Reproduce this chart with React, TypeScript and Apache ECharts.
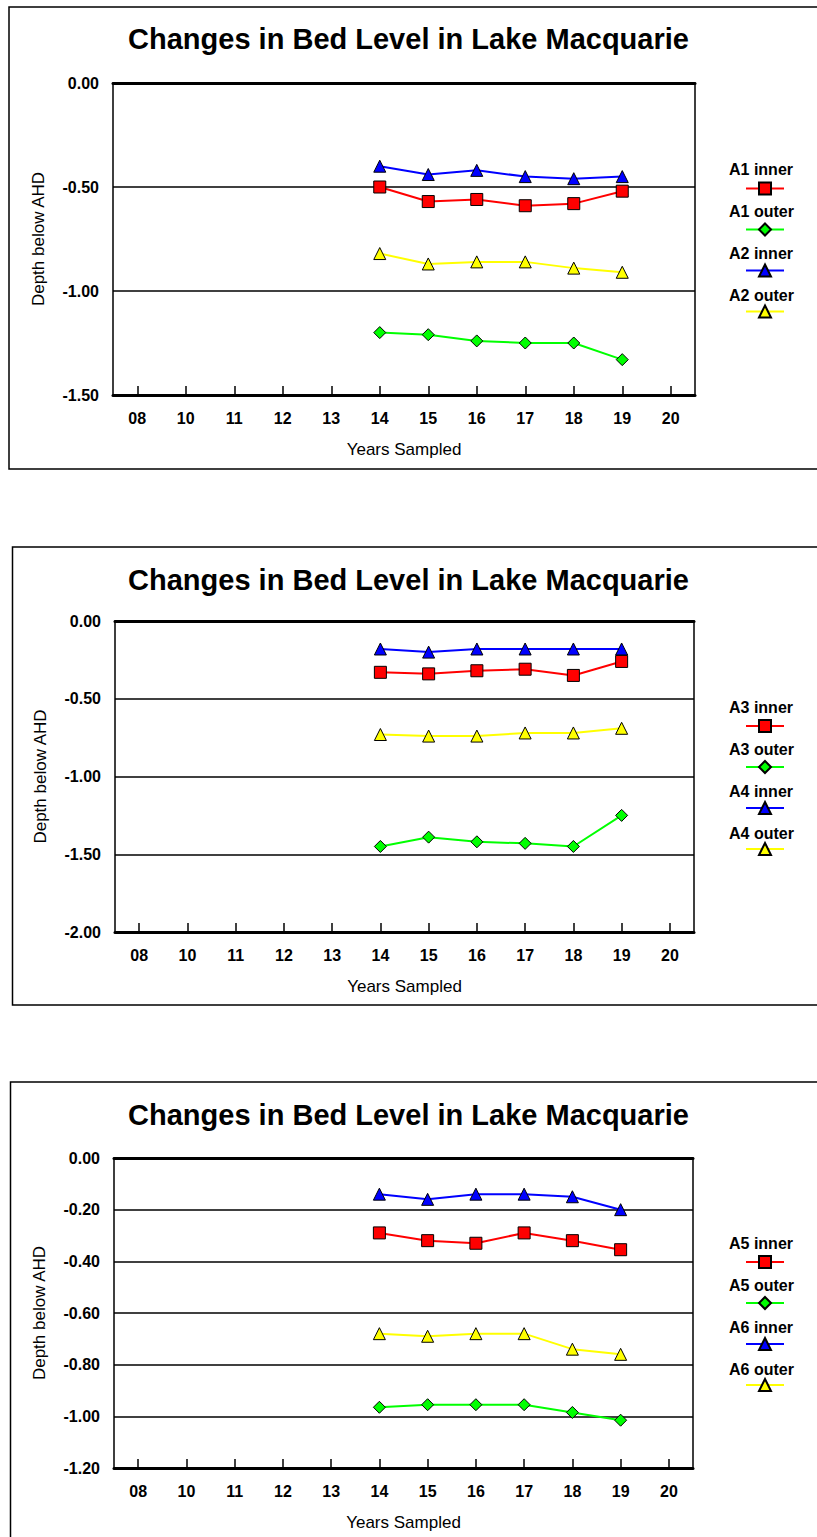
import React, { useEffect, useRef } from 'react';
import * as echarts from 'echarts';

// ---------- data ----------
const years = ['08', '10', '11', '12', '13', '14', '15', '16', '17', '18', '19', '20'];
const chartTitle = 'Changes in Bed Level in Lake Macquarie';
const xAxisName = 'Years Sampled';
const yAxisName = 'Depth below AHD';

// chart 1
const a1Inner = [null, null, null, null, null, -0.50, -0.57, -0.56, -0.59, -0.58, -0.52, null];
const a1Outer = [null, null, null, null, null, -1.20, -1.21, -1.24, -1.25, -1.25, -1.33, null];
const a2Inner = [null, null, null, null, null, -0.40, -0.44, -0.42, -0.45, -0.46, -0.45, null];
const a2Outer = [null, null, null, null, null, -0.82, -0.87, -0.86, -0.86, -0.89, -0.91, null];

// chart 2
const a3Inner = [null, null, null, null, null, -0.33, -0.34, -0.32, -0.31, -0.35, -0.26, null];
const a3Outer = [null, null, null, null, null, -1.45, -1.39, -1.42, -1.43, -1.45, -1.25, null];
const a4Inner = [null, null, null, null, null, -0.18, -0.20, -0.18, -0.18, -0.18, -0.18, null];
const a4Outer = [null, null, null, null, null, -0.73, -0.74, -0.74, -0.72, -0.72, -0.69, null];

// chart 3
const a5Inner = [null, null, null, null, null, -0.29, -0.32, -0.33, -0.29, -0.32, -0.355, null];
const a5Outer = [null, null, null, null, null, -0.965, -0.955, -0.955, -0.955, -0.985, -1.015, null];
const a6Inner = [null, null, null, null, null, -0.14, -0.16, -0.14, -0.14, -0.15, -0.20, null];
const a6Outer = [null, null, null, null, null, -0.68, -0.69, -0.68, -0.68, -0.74, -0.76, null];

const names1 = ['A1 inner', 'A1 outer', 'A2 inner', 'A2 outer'];
const names2 = ['A3 inner', 'A3 outer', 'A4 inner', 'A4 outer'];
const names3 = ['A5 inner', 'A5 outer', 'A6 inner', 'A6 outer'];

const yMins = [-1.5, -2.0, -1.2];
const yIntervals = [0.5, 0.5, 0.2];

// ---------- styles / layout ----------
const FONT = '"Liberation Sans", Arial, Helvetica, sans-serif';
const seriesStyles = [
  { color: '#FF0000', symbol: 'rect', size: 12 },
  { color: '#00FF00', symbol: 'diamond', size: 12 },
  { color: '#0000FF', symbol: 'triangle', size: 12 },
  { color: '#FFFF00', symbol: 'triangle', size: 12 },
];

const panels = [
  {
    names: names1,
    values: [a1Inner, a1Outer, a2Inner, a2Outer],
    grid: { left: 113, top: 83, width: 582, height: 312 },
    titleTop: 24.5,
    legendText: 169,
    legendSym: 189,
    box: { x: 9, y: 7, h: 462 },
  },
  {
    names: names2,
    values: [a3Inner, a3Outer, a4Inner, a4Outer],
    grid: { left: 115, top: 621, width: 579, height: 311 },
    titleTop: 565.5,
    legendText: 707,
    legendSym: 726.5,
    box: { x: 12.5, y: 547, h: 458 },
  },
  {
    names: names3,
    values: [a5Inner, a5Outer, a6Inner, a6Outer],
    grid: { left: 114, top: 1158, width: 579, height: 310 },
    titleTop: 1100.5,
    legendText: 1243,
    legendSym: 1262.5,
    box: { x: 10.5, y: 1082, h: 480 },
  },
];

function buildOption() {
  const grid: any[] = [];
  const xAxis: any[] = [];
  const topAxes: any[] = [];
  const yAxis: any[] = [];
  const series: any[] = [];
  const legend: any[] = [];
  const title: any[] = [];
  const graphic: any[] = [];

  panels.forEach((p, i) => {
    grid.push({
      ...p.grid,
      show: true,
      borderColor: '#000',
      borderWidth: 1.5,
      backgroundColor: 'transparent',
      containLabel: false,
    });
    xAxis.push({
      type: 'category',
      gridIndex: i,
      data: years,
      position: 'bottom',
      boundaryGap: true,
      axisLine: { onZero: false, lineStyle: { color: '#000', width: 3 } },
      axisTick: {
        show: true,
        inside: true,
        length: 9,
        alignWithLabel: true,
        interval: 0,
        lineStyle: { color: '#000', width: 1.5 },
      },
      axisLabel: {
        interval: 0,
        margin: 15,
        fontSize: 16,
        fontWeight: 'bold',
        color: '#000',
        fontFamily: FONT,
      },
      splitLine: { show: false },
      name: xAxisName,
      nameLocation: 'middle',
      nameGap: 46,
      nameTextStyle: { fontSize: 17, color: '#000', fontFamily: FONT },
    });
    topAxes.push({
      type: 'category',
      gridIndex: i,
      data: years,
      position: 'top',
      axisLine: { onZero: false, lineStyle: { color: '#000', width: 3 } },
      axisTick: { show: false },
      axisLabel: { show: false },
      splitLine: { show: false },
    });
    yAxis.push({
      type: 'value',
      gridIndex: i,
      min: yMins[i],
      max: 0,
      interval: yIntervals[i],
      axisLine: { show: false },
      axisTick: { show: false },
      axisLabel: {
        margin: 14,
        fontSize: 16,
        fontWeight: 'bold',
        color: '#000',
        fontFamily: FONT,
        formatter: (v: number) => (Math.abs(v) < 1e-9 ? '0.00' : v.toFixed(2)),
      },
      splitLine: { show: true, lineStyle: { color: '#000', width: 1.5 } },
      name: yAxisName,
      nameLocation: 'middle',
      nameGap: 66,
      nameTextStyle: { fontSize: 17, color: '#000', fontFamily: FONT },
    });
    p.names.forEach((name, k) => {
      const st = seriesStyles[k];
      series.push({
        type: 'line',
        name,
        xAxisIndex: i,
        yAxisIndex: i,
        data: p.values[k],
        symbol: st.symbol,
        symbolSize: st.size,
        showAllSymbol: true,
        connectNulls: false,
        lineStyle: { color: st.color, width: 2 },
        itemStyle: { color: st.color, borderColor: '#000', borderWidth: 1 },
        emphasis: { disabled: true },
        z: 3 + (3 - k),
      });
    });
    // text-only legend (names above the icons)
    legend.push({
      orient: 'vertical',
      left: 723,
      top: p.legendText - 8,
      padding: 0,
      itemGap: 26,
      itemWidth: 1,
      itemHeight: 16,
      icon: 'none',
      selectedMode: false,
      data: p.names,
      textStyle: {
        fontSize: 16,
        fontWeight: 'bold',
        color: '#000',
        fontFamily: FONT,
        lineHeight: 16,
      },
    });
    // icon-only legend
    legend.push({
      orient: 'vertical',
      left: 745,
      top: p.legendSym - 7.5,
      padding: 0,
      itemGap: 27,
      itemWidth: 38,
      itemHeight: 15,
      selectedMode: false,
      data: p.names,
      formatter: () => '',
      textStyle: { fontSize: 10, lineHeight: 15 },
    });
    title.push({
      text: chartTitle,
      left: 'center',
      top: p.titleTop,
      padding: 0,
      textStyle: { fontSize: 29, fontWeight: 'bold', color: '#000', fontFamily: FONT },
    });
    graphic.push({
      type: 'rect',
      silent: true,
      shape: { x: p.box.x, y: p.box.y, width: 900, height: p.box.h },
      style: { fill: 'none', stroke: '#000', lineWidth: 1.5 },
    });
  });

  return {
    animation: false,
    backgroundColor: '#fff',
    title,
    legend,
    grid,
    xAxis: [...xAxis, ...topAxes],
    yAxis,
    series,
    graphic,
  };
}

export default function App() {
  const ref = useRef<HTMLDivElement>(null);
  useEffect(() => {
    if (!ref.current) return;
    const chart = echarts.init(ref.current, null, { renderer: 'svg' });
    chart.setOption(buildOption() as any);
    return () => chart.dispose();
  }, []);
  return (
    <div
      ref={ref}
      style={{ position: 'absolute', left: 0, top: 0, width: 817, height: 1537, background: '#fff' }}
    />
  );
}
